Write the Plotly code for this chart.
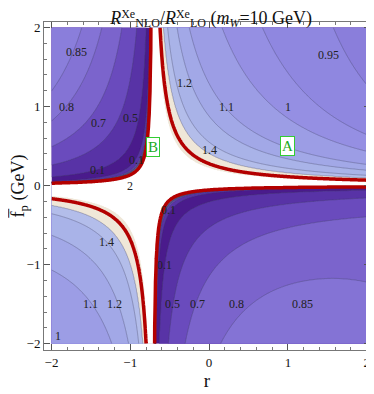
import numpy as np
import plotly.graph_objects as go

# ratio as (b(r) + (c + d/f_p) / (r - r0))^2
r_zero = -0.714            # LO rate vanishes here
b_far = [0.956, -0.016]    # far-field amplitude ratio, b0 + b1*r
c_side = [0.008, -0.005]   # r < r0, r > r0
d_two_body = 0.092         # GeV

r_vals = np.linspace(-2, 2, 401)
fp_vals = np.linspace(-2, 2, 401)

levels = [0.1, 0.5, 0.7, 0.8, 0.85, 0.9, 0.95, 1, 1.1, 1.2, 1.4, 1.6]
red_level = 2
beige_top = 2.3

band_colors = ['#4a1b8c', '#5833a6', '#6a4bbd', '#7b64cc', '#8473d5', '#8a7edb',
               '#8f87e0', '#958fe3', '#9c9de5', '#a2a8e7', '#a9b3e8', '#b3bdea',
               '#efe7d8', '#ffffff']

label_text = ['0.85', '0.8', '0.7', '0.5', '0.1', '0.1', '2', '1.2', '1.1', '1', '0.95', '1.4',
              '0.1', '0.1', '0.5', '0.7', '0.8', '0.85', '1.4', '1.1', '1.2', '1']
label_r = [-1.68, -1.81, -1.40, -1.00, -1.42, -0.92, -1.00, -0.31, 0.22, 1.00, 1.51, 0.01,
           -0.51, -0.56, -0.46, -0.15, 0.35, 1.19, -1.30, -1.51, -1.20, -1.92]
label_fp = [1.69, 1.00, 0.79, 0.85, 0.195, 0.32, 0.0, 1.30, 0.99, 0.99, 1.65, 0.45,
            -0.31, -1.01, -1.50, -1.50, -1.50, -1.50, -0.71, -1.50, -1.50, -1.90]

R, F = np.meshgrid(r_vals, fp_vals)
c_grid = np.where(R < r_zero, c_side[0], c_side[1])
with np.errstate(divide='ignore', invalid='ignore'):
    amp = b_far[0] + b_far[1] * R + (c_grid + d_two_body / F) / (R - r_zero)
    ratio = amp ** 2
ratio = np.clip(np.nan_to_num(ratio, nan=10, posinf=10), 0, 10)

edges = [0] + levels + [beige_top, 10]
t = np.round(np.interp(ratio, edges, np.arange(len(edges))), 3)
nb = len(band_colors)
cscale = []
for k, c in enumerate(band_colors):
    cscale += [[k / nb, c], [(k + 1) / nb, c]]

fig = go.Figure()
fig.add_trace(go.Contour(
    x=r_vals, y=fp_vals, z=t, zmin=0, zmax=nb,
    colorscale=cscale, showscale=False, hoverinfo='skip',
    contours=dict(start=1, end=nb - 1, size=1, coloring='fill'),
    line=dict(width=0)))
fig.add_trace(go.Contour(
    x=r_vals, y=fp_vals, z=t, showscale=False, hoverinfo='skip',
    contours=dict(start=1, end=len(levels), size=1, coloring='none'),
    line=dict(color='rgba(70,70,100,0.5)', width=0.7)))
fig.add_trace(go.Contour(
    x=r_vals, y=fp_vals, z=np.round(ratio, 3), showscale=False, hoverinfo='skip',
    contours=dict(start=red_level, end=red_level, size=1, coloring='none'),
    line=dict(color='#b30000', width=3.5)))

for txt, x, y in zip(label_text, label_r, label_fp):
    fig.add_annotation(x=x, y=y, text=txt, showarrow=False,
                       font=dict(size=12, color='#222'))
for txt, x, y in [('A', 1.0, 0.5), ('B', -0.71, 0.49)]:
    fig.add_annotation(x=x, y=y, text=txt, showarrow=False, bgcolor='white',
                       bordercolor='#33cc33', borderwidth=1, borderpad=1,
                       font=dict(size=15, color='#22aa22'))

fig.update_xaxes(range=[-2.095, 2.042], tickvals=[-2, -1, 0, 1, 2], automargin=False,
                 ticks='inside', ticklen=6, tickcolor='#555', showline=True,
                 linecolor='#777', mirror='ticks', showgrid=False, zeroline=False,
                 minor=dict(dtick=0.2, ticks='inside', ticklen=3, tickcolor='#777'),
                 tickfont=dict(size=13),
                 title=dict(text='r', font=dict(size=19), standoff=4))
fig.update_yaxes(range=[-2.08, 2.07], tickvals=[-2, -1, 0, 1, 2], automargin=False,
                 ticks='inside', ticklen=6, tickcolor='#555', showline=True,
                 linecolor='#777', mirror='ticks', showgrid=False, zeroline=False,
                 minor=dict(dtick=0.2, ticks='inside', ticklen=3, tickcolor='#777'),
                 tickfont=dict(size=13),
                 title=dict(text='f\u0305<sub>p</sub> (GeV)', font=dict(size=18), standoff=2))

# small raised / lowered pieces, closer to the original than plotly's <sup>/<sub>
sup = '<span style="font-size:12px;baseline-shift:6px">{}</span>'
sub = '<span style="font-size:12px;baseline-shift:-3px">{}</span>'
title_text = ('<i>R</i>' + sup.format('Xe') + sub.format('NLO') + '/<i>R</i>'
              + sup.format('Xe') + sub.format('LO') + ' (<i>m</i>'
              + sub.format('<i>W</i>') + '=10 GeV)')

# the page body keeps its 8px margin, so the figure is 8px smaller on each side
fig.update_layout(
    width=366, height=386, showlegend=False,
    margin=dict(l=36, r=4, t=14, b=44, autoexpand=False),
    font=dict(family='Liberation Serif', color='#111'),
    title=dict(text=title_text,
               x=0.555, xanchor='center', yref='container', y=0.976, yanchor='middle',
               font=dict(size=18)),
    paper_bgcolor='white', plot_bgcolor='white')

fig.write_html("out.html")
